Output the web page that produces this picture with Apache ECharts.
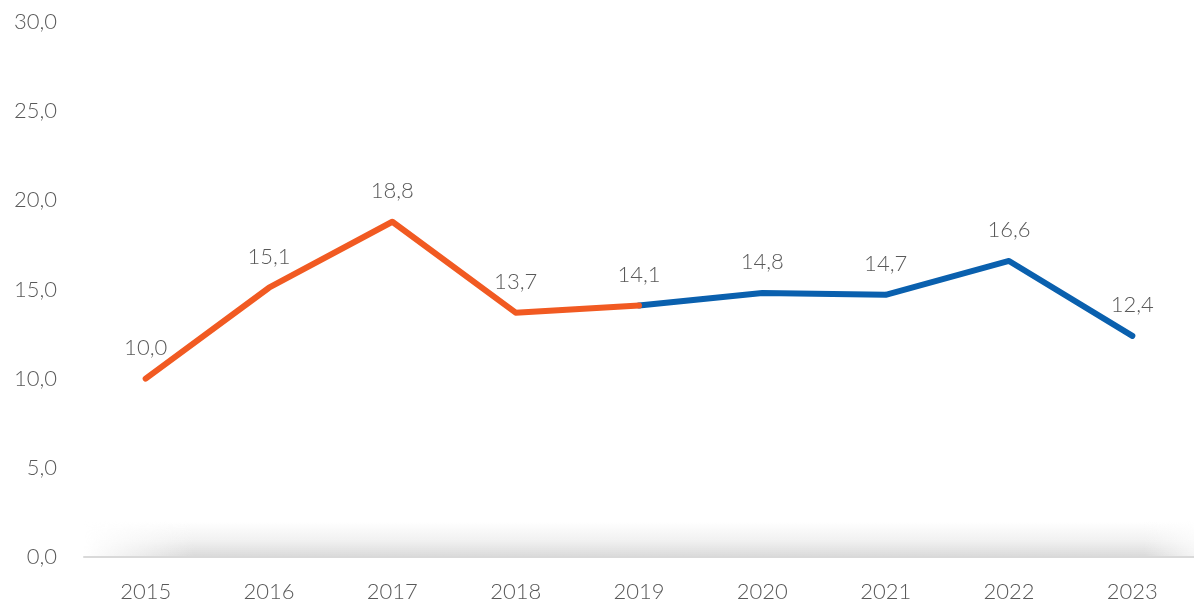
<!DOCTYPE html>
<html style="height:100%;width:100%">
<head>
	<meta charset="UTF-8">
	<title>Chart</title>
	<script src="https://cdn.jsdelivr.net/npm/echarts@6/dist/echarts.min.js"></script>
	<style type="text/css">
		body{ height:100%; width:100%; margin:0px; background-color:#FFFFFF; }
		#container{ width:1194px; height:603px; }
	</style>
</head>
<body>
<div id="container"></div>
<script type="text/javascript">

var categories = ['2015', '2016', '2017', '2018', '2019', '2020', '2021', '2022', '2023'];
var values = [10.0, 15.1, 18.8, 13.7, 14.1, 14.8, 14.7, 16.6, 12.4];
var splitIndex = 4; // orange up to 2019, blue from 2019 on

var fmt = function(v) {
	return Number(v).toFixed(1).replace('.', ',');
};

// split the one list into two segments sharing the 2019 point
var orangeData = values.map(function(v, i) { return i <= splitIndex ? v : '-'; });
var blueData = values.map(function(v, i) { return i >= splitIndex ? v : '-'; });

var labelStyle = function(skipIndex) {
	return {
		show: true,
		position: 'top',
		distance: 20,
		fontSize: 22,
		fontWeight: 300,
		color: '#595959',
		formatter: function(p) { return p.dataIndex === skipIndex ? '' : fmt(p.value); }
	};
};

var gridLeft = 84, gridBottom = 46;

var dom = document.getElementById("container");
var myChart = echarts.init(dom);
var option = {
	textStyle: { fontFamily: 'Lato', fontWeight: 300 },
	animation: false,
	grid: { left: gridLeft, right: 0, top: 22, bottom: gridBottom },
	xAxis: {
		type: 'category',
		data: categories,
		axisTick: { show: false },
		axisLine: { lineStyle: { color: '#d9d9d9', width: 2 } },
		axisLabel: { fontSize: 22, fontWeight: 300, color: '#595959', margin: 24 }
	},
	yAxis: {
		type: 'value',
		min: 0, max: 30, interval: 5,
		splitLine: { show: false },
		axisLine: { show: false },
		axisLabel: { fontSize: 22, fontWeight: 300, color: '#595959', margin: 27, formatter: fmt }
	},
	series: [{
		type: 'line',
		data: orangeData,
		symbol: 'circle',
		symbolSize: 0,
		color: '#F15A22',
		lineStyle: { width: 6, cap: 'round', join: 'round' },
		label: labelStyle(-1),
		z: 3
	}, {
		type: 'line',
		data: blueData,
		symbol: 'circle',
		symbolSize: 0,
		color: '#0A60AE',
		lineStyle: { width: 6, cap: 'round', join: 'round' },
		label: labelStyle(splitIndex),
		z: 2
	}]
};
myChart.setOption(option, true);

// soft grey shade sitting on top of the x axis line
var W = myChart.getWidth(), H = myChart.getHeight();
var axisY = H - gridBottom;
var shadeH = 36;
myChart.setOption({
	graphic: [{
		type: 'rect', z: -1, silent: true,
		shape: { x: gridLeft, y: axisY - shadeH, width: W - gridLeft, height: shadeH },
		style: { fill: new echarts.graphic.LinearGradient(0, 0, 0, 1, [
			{ offset: 0, color: 'rgba(220,220,220,0)' },
			{ offset: 0.5, color: 'rgba(220,220,220,0.35)' },
			{ offset: 1, color: 'rgba(215,215,215,0.95)' }
		]) }
	}, {
		type: 'rect', z: -1, silent: true,
		shape: { x: gridLeft, y: axisY - shadeH, width: 110, height: shadeH },
		style: { fill: new echarts.graphic.LinearGradient(0, 0, 1, 0, [
			{ offset: 0, color: 'rgba(255,255,255,1)' },
			{ offset: 1, color: 'rgba(255,255,255,0)' }
		]) }
	}, {
		type: 'rect', z: -1, silent: true,
		shape: { x: W - 50, y: axisY - shadeH, width: 50, height: shadeH },
		style: { fill: new echarts.graphic.LinearGradient(0, 0, 1, 0, [
			{ offset: 0, color: 'rgba(255,255,255,0)' },
			{ offset: 1, color: 'rgba(255,255,255,0.7)' }
		]) }
	}]
});
</script>
</body>
</html>
